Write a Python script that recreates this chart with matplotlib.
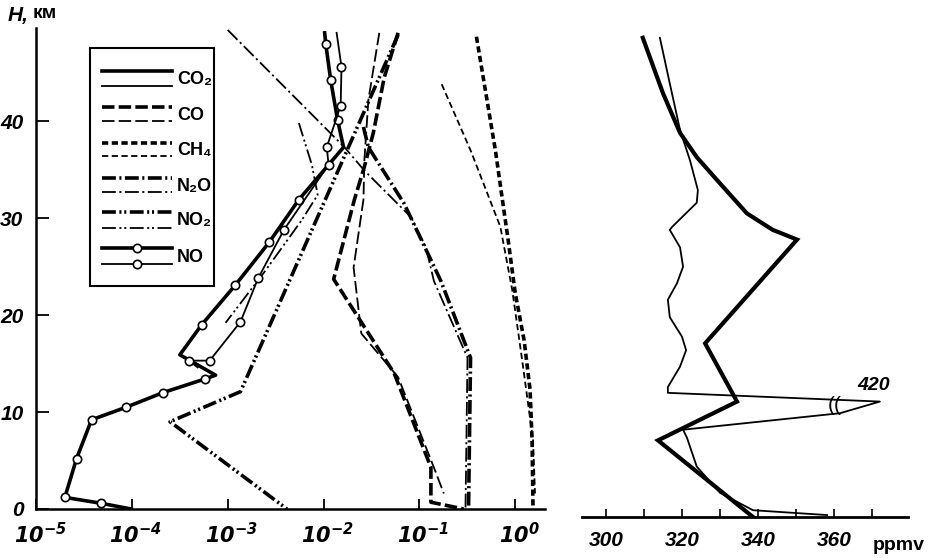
import matplotlib
matplotlib.use('Agg')
import matplotlib.pyplot as plt
import matplotlib.transforms as mtransforms

plt.rcParams['font.family'] = ['Liberation Sans Narrow', 'Liberation Sans', 'DejaVu Sans']
plt.rcParams['lines.scale_dashes'] = False
plt.rcParams['mathtext.fontset'] = 'custom'
plt.rcParams['mathtext.rm'] = 'Liberation Sans Narrow:bold:italic'
plt.rcParams['mathtext.it'] = 'Liberation Sans Narrow:bold:italic'
plt.rcParams['mathtext.bf'] = 'Liberation Sans Narrow:bold:italic'

# ---- left panel: mixing ratio, ppmv, vs height, km (a = thick, b = thin)
h_co_a = [49.1, 44.5, 38.8, 35.3, 31.9, 23.7, 14.0, 4.3, 0.7, 0.0]
x_co_a = [0.060, 0.043, 0.0331, 0.0267, 0.0210, 0.01276, 0.0546, 0.132, 0.132, 0.29]
h_co_b = [49.1, 42.2, 36.0, 31.9, 24.9, 18.1, 13.6, 4.3, 1.6]
x_co_b = [0.0382, 0.0294, 0.0267, 0.0261, 0.0206, 0.0248, 0.060, 0.1416, 0.180]

h_ch4_a = [48.7, 37.0, 27.7, 22.3, 17.4, 12.3, 7.1, 0.0]
x_ch4_a = [0.394, 0.621, 0.845, 1.0, 1.239, 1.429, 1.5, 1.535]
h_ch4_b = [43.8, 37.0, 29.1, 22.6, 15.4, 7.1, 1.6]
x_ch4_b = [0.171, 0.342, 0.70, 0.931, 1.18, 1.535, 1.61]

h_n2o_a = [39.4, 37.3, 31.5, 23.5, 15.6, 0.0]
x_n2o_a = [0.0261, 0.0294, 0.0693, 0.168, 0.342, 0.326]
h_n2o_b = [49.4, 37.3, 34.9, 30.1, 27.0, 23.5, 15.6, 0.0]
x_n2o_b = [1.0e-3, 0.01656, 0.0267, 0.0818, 0.117, 0.142, 0.318, 0.303]

h_no2_a = [48.9, 12.1, 9.0, 0.0]
x_no2_a = [0.060, 1.36e-3, 2.5e-4, 4.16e-3]
h_no2_b = [39.8, 35.5, 32.4, 29.8, 24.4, 19.2]
x_no2_b = [5.53e-3, 7.55e-3, 8.7e-3, 5.94e-3, 2.4e-3, 9.5e-4]

h_no_a = [49.1, 48.0, 44.2, 40.1, 37.3, 31.9, 27.5, 23.1, 19.0, 15.9,
          13.8, 13.4, 12.0, 10.5, 9.2, 5.2, 1.2, 0.6, 0.0]
x_no_a = [0.01028, 0.01054, 0.01189, 0.01403, 0.01618, 5.53e-3, 2.71e-3,
          1.205e-3, 5.36e-4, 3.17e-4, 7.48e-4, 5.75e-4, 2.11e-4, 8.75e-5,
          3.80e-5, 2.65e-5, 2.0e-5, 4.71e-5, 9.86e-5]
mark_no_a = [1, 2, 3, 5, 6, 7, 8, 11, 12, 13, 14, 15, 16, 17]
h_no_b = [49.1, 45.6, 41.6, 37.3, 35.5, 28.8, 23.8, 19.3, 15.3, 15.3, 14.6]
x_no_b = [0.0137, 0.0154, 0.0151, 0.0108, 0.0113, 3.87e-3, 2.08e-3,
          1.36e-3, 6.49e-4, 3.93e-4, 4.86e-4]
mark_no_b = [1, 2, 3, 4, 5, 6, 7, 8, 9]

left_ticks = [1e-5, 1e-4, 1e-3, 1e-2, 1e-1, 1e0]
left_exps = [-5, -4, -3, -2, -1, 0]
h_ticks = [0, 10, 20, 30, 40]

# ---- right panel: CO2, ppmv
h_co2_a = [49.4, 43.7, 39.6, 37.1, 34.4, 31.3, 29.6, 28.6, 17.9, 11.9, 7.9, 0.0]
x_co2_a = [309.7, 315.0, 319.5, 323.9, 330.0, 337.1, 343.9, 350.3, 326.1, 334.5, 313.7, 338.7]
h_co2_b = [49.4, 44.7, 39.9, 36.8, 33.7, 32.4, 29.9, 29.6, 27.8, 25.8, 24.1, 22.4,
           20.6, 18.6, 17.2, 15.5, 13.4, 12.8, 11.9, 10.7, 9.0, 8.2, 5.2, 2.5, 0.7, 0.2]
x_co2_b = [314.2, 316.8, 319.5, 322.1, 324.2, 323.9, 317.4, 316.8, 319.5, 320.3, 318.7, 316.3,
           316.8, 320.0, 321.1, 319.5, 316.3, 316.3, 372.1, 361.6, 320.3, 321.3, 323.9, 330.0,
           338.7, 358.2]
co2_ticks = [300, 310, 320, 330, 340, 350, 360, 370]
co2_labels = ['300', '', '320', '', '340', '', '360', '']
peak_label = '420'

TH, TN = 2.6, 1.3
styles = {
    'CO2': '-',
    'CO': (0, (9, 3)),
    'CH4': (0, (4.5, 2.5)),
    'N2O': (0, (10, 2.5, 1.5, 2.5)),
    'NO2': (0, (10, 2.5, 1.5, 2, 1.5, 2.5)),
    'NO': '-',
}
mk = dict(marker='o', ms=6, mfc='white', mec='black', mew=1.2)

fig = plt.figure(figsize=(9.33, 5.58), dpi=100)

ax = fig.add_axes([36 / 933, 49 / 558, 509 / 933, 481 / 558])
ax.set_xscale('log')
ax.set_xlim(10 ** -4.959, 10 ** 0.311)
ax.set_ylim(0, 49.6)

ax.plot(x_co_a, h_co_a, 'k', lw=TH, ls=styles['CO'])
ax.plot(x_co_b, h_co_b, 'k', lw=TN, ls=styles['CO'])
ax.plot(x_ch4_a, h_ch4_a, 'k', lw=TH, ls=styles['CH4'])
ax.plot(x_ch4_b, h_ch4_b, 'k', lw=TN, ls=styles['CH4'])
ax.plot(x_n2o_a, h_n2o_a, 'k', lw=TH, ls=styles['N2O'])
ax.plot(x_n2o_b, h_n2o_b, 'k', lw=TN, ls=styles['N2O'])
ax.plot(x_no2_a, h_no2_a, 'k', lw=TH, ls=styles['NO2'])
ax.plot(x_no2_b, h_no2_b, 'k', lw=TN, ls=styles['NO2'])
ax.plot(x_no_a, h_no_a, 'k', lw=TH, markevery=mark_no_a, **mk)
ax.plot(x_no_b, h_no_b, 'k', lw=TN, markevery=mark_no_b, **mk)

for s in ['top', 'right']:
    ax.spines[s].set_visible(False)
for s in ['left', 'bottom']:
    ax.spines[s].set_linewidth(1.8)
ax.set_xticks(left_ticks)
ax.set_xticklabels([rf'$10^{{{e}}}$' if e != 0 else r'$10^{0}$' for e in left_exps])
ax.minorticks_off()
ax.set_yticks(h_ticks)
ax.set_yticklabels([str(v) for v in h_ticks])
ax.tick_params(axis='x', direction='in', length=7, width=1.3, pad=9, labelsize=15)
ax.tick_params(axis='y', direction='in', length=9, width=1.3, pad=9, labelsize=15)
for lab in ax.get_yticklabels():
    lab.set_fontstyle('italic')
    lab.set_fontweight('bold')
shift = mtransforms.ScaledTranslation(4 / 100, 0, fig.dpi_scale_trans)
for lab in ax.get_xticklabels():
    lab.set_transform(lab.get_transform() + shift)

fig.text(8 / 933, 1 - 15 / 558, 'H,', fontsize=15, fontstyle='italic',
         fontweight='bold', va='center', ha='left')
fig.text(33 / 933, 1 - 14 / 558, 'км', fontsize=14, fontweight='bold',
         va='center', ha='left')

# legend box
lg = fig.add_axes([90 / 933, (558 - 286) / 558, 124 / 933, 238 / 558])
lg.set_xlim(0, 124)
lg.set_ylim(238, 0)
lg.set_xticks([])
lg.set_yticks([])
for s in lg.spines.values():
    s.set_linewidth(1.5)
entries = [('CO2', 'CO₂', 23, 38), ('CO', 'CO', 59, 73), ('CH4', 'CH₄', 95, 108),
           ('N2O', 'N₂O', 130, 144), ('NO2', 'NO₂', 164, 180), ('NO', 'NO', 200, 216)]
for key, name, ya, yb in entries:
    extra = dict(markevery=[1], **mk) if key == 'NO' else {}
    lg.plot([12, 47, 82], [ya] * 3, 'k', lw=TH, ls=styles[key], **extra)
    lg.plot([12, 47, 82], [yb] * 3, 'k', lw=TN, ls=styles[key], **extra)
    lg.text(87, (ya + yb) / 2 + 1, name, fontsize=13, fontweight='bold',
            va='center', ha='left')

# right panel
ax2 = fig.add_axes([582 / 933, 41 / 558, 326 / 933, 485 / 558])
ax2.set_xlim(293.7, 379.5)
ax2.set_ylim(0, 50)
ax2.plot(x_co2_a, h_co2_a, 'k', lw=TH + 0.4, solid_joinstyle='miter')
ax2.plot(x_co2_b, h_co2_b, 'k', lw=TN, solid_joinstyle='round')
for s in ['top', 'right', 'left']:
    ax2.spines[s].set_visible(False)
ax2.spines['bottom'].set_linewidth(2.0)
ax2.set_yticks([])
ax2.set_xticks(co2_ticks)
ax2.set_xticklabels(co2_labels)
ax2.tick_params(axis='x', direction='in', length=6, width=1.2, pad=10, labelsize=15)
for lab in ax2.get_xticklabels():
    lab.set_fontstyle('italic')
    lab.set_fontweight('bold')
ax2.text(360.2, 11.5, '((', fontsize=15, ha='center', va='center')
ax2.text(370.5, 13.6, peak_label, fontsize=14, fontstyle='italic',
         fontweight='bold', ha='center', va='center')
fig.text(873 / 933, 1 - 545 / 558, 'ppmv', fontsize=14, fontweight='bold',
         ha='left', va='center')

fig.savefig('out.png', dpi=100, facecolor='white')
